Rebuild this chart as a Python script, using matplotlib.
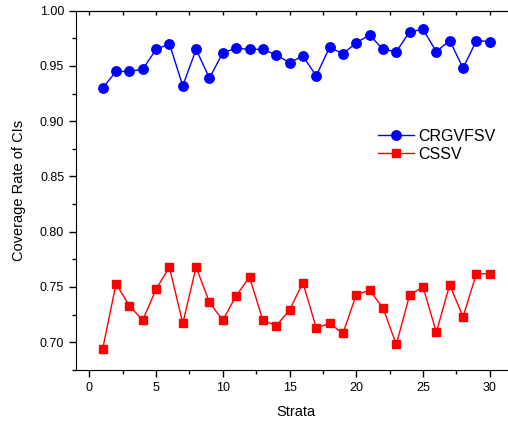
import numpy as np
import matplotlib
matplotlib.use("Agg")
import matplotlib.pyplot as plt
from matplotlib.ticker import MultipleLocator

plt.rcParams['font.family'] = ['Liberation Sans', 'DejaVu Sans']

# data
strata = list(range(1, 31))
crgvfsv = [0.930, 0.945, 0.945, 0.947, 0.965, 0.970, 0.932, 0.965, 0.939, 0.962,
           0.966, 0.965, 0.965, 0.960, 0.953, 0.959, 0.941, 0.967, 0.961, 0.971,
           0.978, 0.965, 0.963, 0.981, 0.983, 0.963, 0.973, 0.948, 0.973, 0.972]
cssv = [0.694, 0.753, 0.733, 0.720, 0.748, 0.768, 0.717, 0.768, 0.736, 0.720,
        0.742, 0.759, 0.720, 0.715, 0.729, 0.754, 0.713, 0.717, 0.708, 0.743,
        0.747, 0.731, 0.698, 0.743, 0.750, 0.709, 0.752, 0.723, 0.762, 0.762]

fig = plt.figure(figsize=(5.08, 4.21), dpi=100)
ax = fig.add_axes([0.1496, 0.1214, 0.867, 0.8532])

ax.plot(strata, crgvfsv, color='blue', marker='o', markersize=6.8, linewidth=1, label='CRGVFSV')
ax.plot(strata, cssv, color='red', marker='s', markersize=6, linewidth=1, label='CSSV')

ax.set_xlim(-1, 32)
ax.set_ylim(0.675, 1.0)
ax.xaxis.set_major_locator(MultipleLocator(5))
ax.xaxis.set_minor_locator(MultipleLocator(2.5))
ax.yaxis.set_major_locator(MultipleLocator(0.05))
ax.yaxis.set_minor_locator(MultipleLocator(0.025))
ax.yaxis.set_major_formatter(plt.FormatStrFormatter('%.2f'))

ax.tick_params(axis='both', which='major', direction='out', length=5, width=1, labelsize=9)
ax.tick_params(axis='both', which='minor', direction='out', length=3, width=1)
ax.spines['right'].set_visible(False)

# top axis: ticks pointing inward, no labels
top = ax.secondary_xaxis('top')
top.xaxis.set_major_locator(MultipleLocator(5))
top.xaxis.set_minor_locator(MultipleLocator(2.5))
top.tick_params(which='both', direction='in', length=3, width=1, labeltop=False)

ax.set_xlabel('Strata', fontsize=10.5, labelpad=8)
ax.set_ylabel('Coverage Rate of CIs', fontsize=10.5, labelpad=10)

ax.legend(loc='center left', bbox_to_anchor=(0.653, 0.625), frameon=False,
          fontsize=11.5, handlelength=2.25, handletextpad=0.25, labelspacing=0.2)

plt.savefig('out.png', dpi=100)
